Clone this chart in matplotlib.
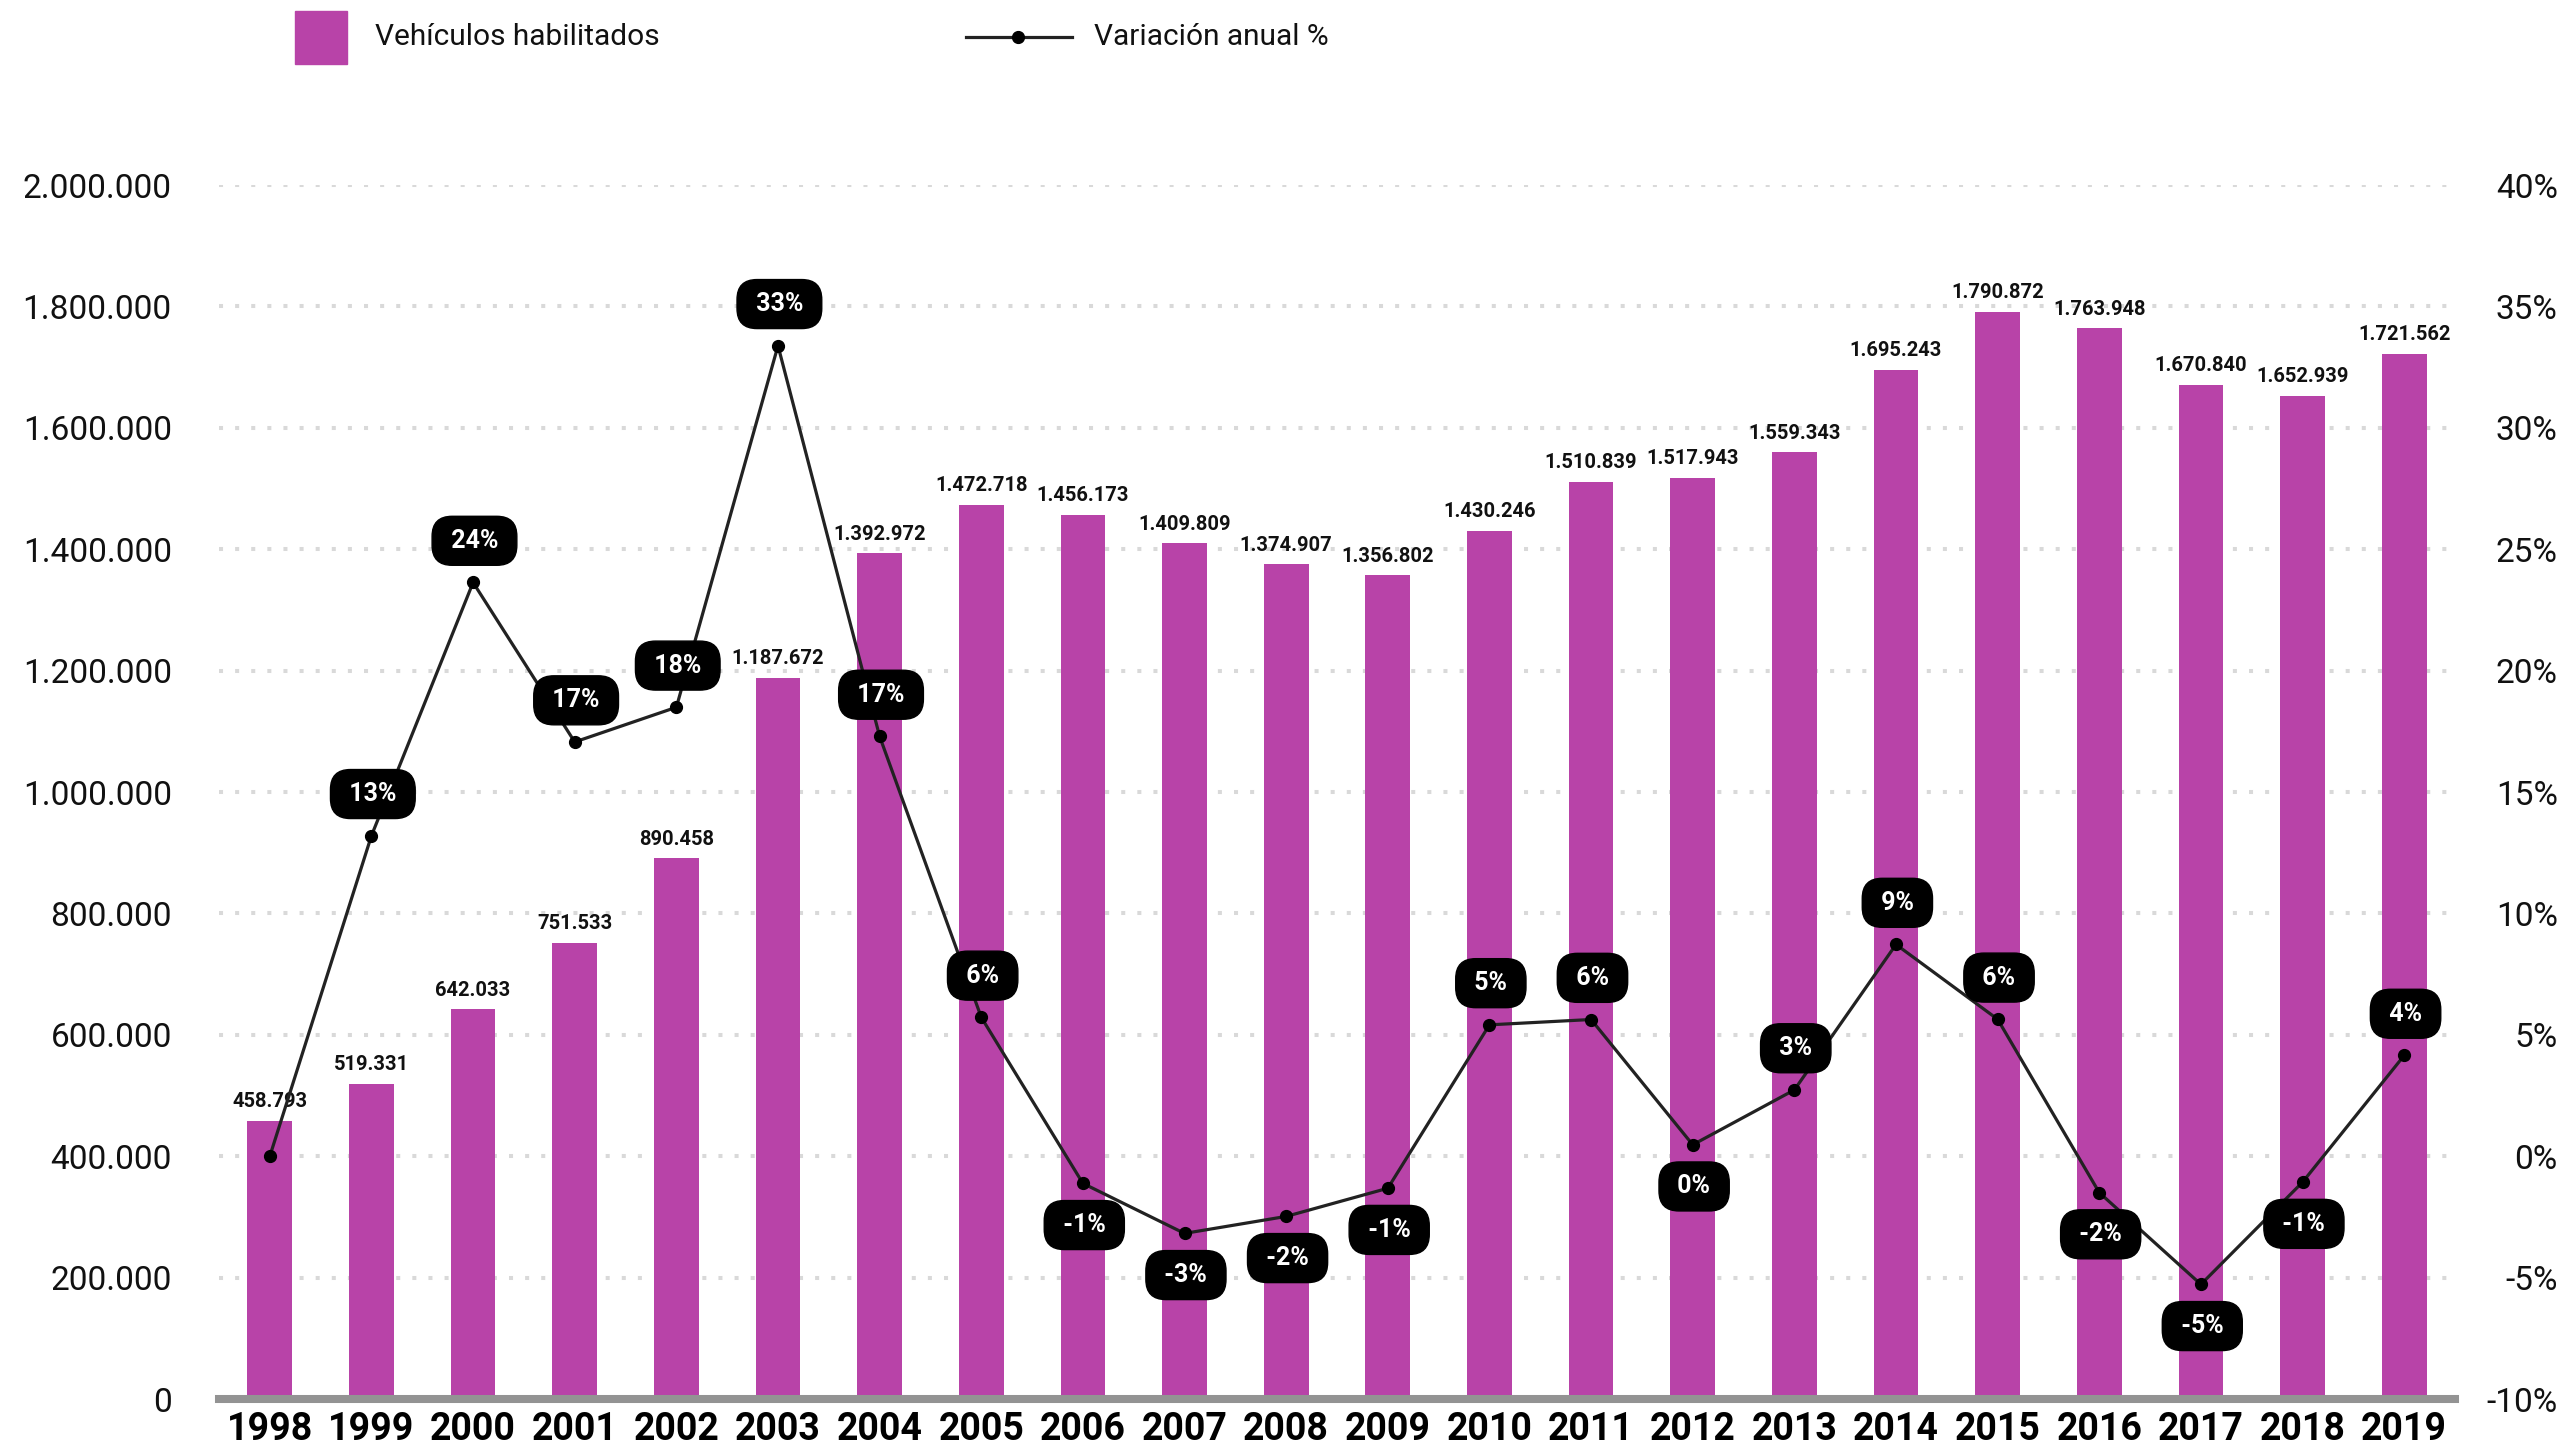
import matplotlib
matplotlib.use("Agg")
import matplotlib.pyplot as plt
from matplotlib.patches import Rectangle
from matplotlib.lines import Line2D
from matplotlib.ticker import FuncFormatter, MultipleLocator

plt.rcParams['font.family'] = ['Roboto', 'DejaVu Sans']

# data
years = list(range(1998, 2020))
vehiculos = [458793, 519331, 642033, 751533, 890458, 1187672, 1392972,
             1472718, 1456173, 1409809, 1374907, 1356802, 1430246, 1510839,
             1517943, 1559343, 1695243, 1790872, 1763948, 1670840, 1652939,
             1721562]
variacion = [0.0, 13.20, 23.63, 17.06, 18.49, 33.38, 17.29, 5.72, -1.12,
             -3.18, -2.48, -1.32, 5.41, 5.63, 0.47, 2.73, 8.72, 5.64, -1.50,
             -5.28, -1.07, 4.15]

bar_color = '#b843a8'
line_color = '#222222'
W, H = 2567, 1451

fig = plt.figure(figsize=(W / 100, H / 100), dpi=100)
ax = fig.add_axes([219 / W, 1 - 1399 / H, (2455 - 219) / W, (1399 - 185) / H])
x = list(range(len(years)))

ax.bar(x, vehiculos, width=0.44, color=bar_color, zorder=2)
ax.set_xlim(-0.5, 21.5)
ax.set_ylim(0, 2000000)
ax.yaxis.set_major_locator(MultipleLocator(200000))
ax.yaxis.set_major_formatter(FuncFormatter(lambda v, p: f'{v:,.0f}'.replace(',', '.')))
ax.set_axisbelow(True)
ax.yaxis.grid(True, color='#d9d9d9', lw=2.9, linestyle=(0, (1, 3)))
for s in ax.spines.values():
    s.set_visible(False)
ax.tick_params(axis='y', length=0, pad=34, labelsize=24, labelcolor='#111111')
ax.tick_params(axis='x', length=0, pad=9, labelsize=27)
ax.set_xticks(x)
ax.set_xticklabels([str(y) for y in years], fontweight='bold')
ax.axhline(0, color='#939393', lw=5.8, zorder=3, clip_on=False)

for xi, v in zip(x, vehiculos):
    ax.annotate(f'{v:,}'.replace(',', '.'), (xi, v), xytext=(0, 7),
                textcoords='offset points', ha='center', va='bottom',
                fontsize=14.5, fontweight='bold', color='#111111', zorder=4)

ax2 = ax.twinx()
ax2.set_ylim(-10, 40)
ax2.yaxis.set_major_locator(MultipleLocator(5))
ax2.yaxis.set_major_formatter(FuncFormatter(lambda v, p: f'{v:.0f}%'))
for s in ax2.spines.values():
    s.set_visible(False)
ax2.tick_params(axis='y', length=0, pad=74, labelsize=24, labelcolor='#111111')
for lab in ax2.get_yticklabels():
    lab.set_horizontalalignment('right')

ax2.plot(x, variacion, color=line_color, lw=2.3, marker='o', markersize=8.5,
         markerfacecolor='black', markeredgecolor='black', zorder=5)

for xi, v, yr in zip(x, variacion, years):
    if yr == 1998:
        continue
    dy = 30 if v > 1 else -30
    ax2.annotate(f' {v:.0f}% ', (xi, v), xytext=(1, dy), textcoords='offset points',
                 ha='center', va='center', fontsize=18, fontweight='bold', color='white',
                 zorder=6,
                 bbox=dict(boxstyle='round,pad=0.5,rounding_size=0.8', fc='black', ec='black'))

# legend drawn by hand at the top
fig.add_artist(Rectangle((295 / W, 1 - 64 / H), 52 / W, 53 / H, transform=fig.transFigure,
                         color=bar_color))
fig.text(375 / W, 1 - 37 / H, 'Vehículos habilitados', fontsize=21.5, va='center',
         ha='left', color='#111111')
fig.add_artist(Line2D([966 / W, 1072 / W], [1 - 37 / H, 1 - 37 / H], transform=fig.transFigure,
                      color=line_color, lw=2.3))
fig.add_artist(Line2D([1018 / W], [1 - 37 / H], transform=fig.transFigure, marker='o',
                      markersize=8.5, color='black'))
fig.text(1094 / W, 1 - 37 / H, 'Variación anual %', fontsize=21.5, va='center',
         ha='left', color='#111111')

fig.savefig('out.png', dpi=100)
